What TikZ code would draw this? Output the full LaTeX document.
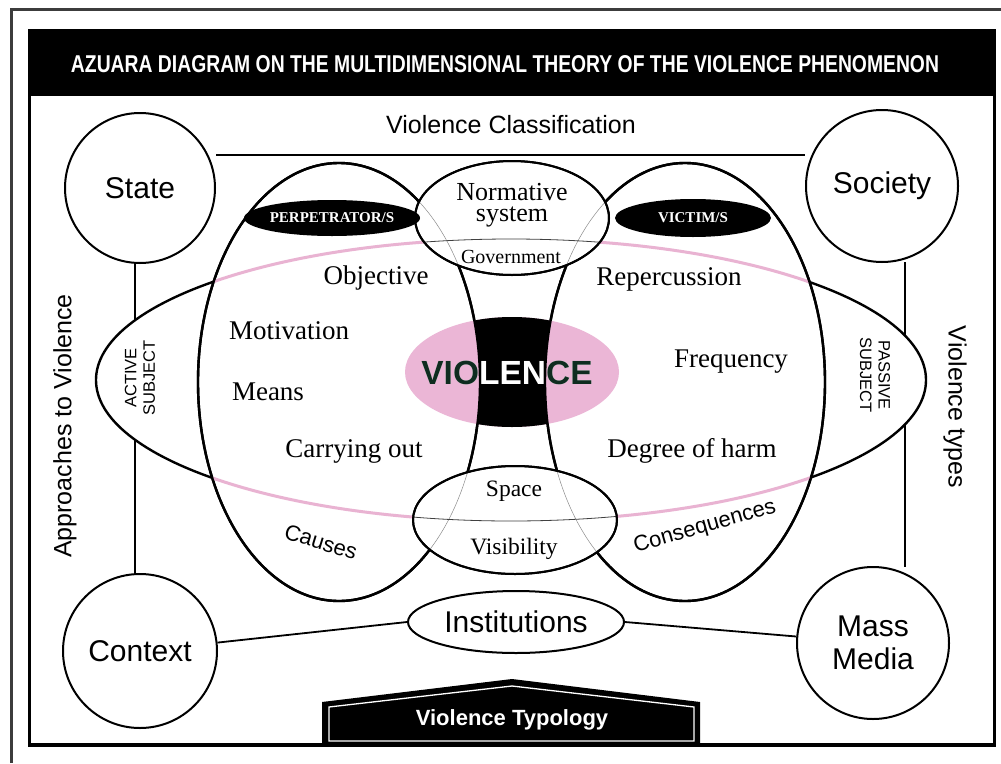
\documentclass[tikz,border=0pt]{standalone}
\usepackage{fontspec}
\setmainfont{Liberation Serif}
\setsansfont{Liberation Sans}
\usetikzlibrary{shapes.geometric}
\definecolor{pinkfill}{HTML}{EBB6D6}
\definecolor{pinkline}{HTML}{E9B3D2}
\definecolor{violgreen}{HTML}{0F2C20}
\definecolor{framegray}{HTML}{3C3C3C}
\newcommand{\azfs}[1]{\fontsize{#1}{#1}\selectfont}
\begin{document}
\begin{tikzpicture}[x=1pt,y=-1pt,
  bold/.style={line width=2.4pt},
  hub/.style={circle, draw, line width=2pt, fill=white, inner sep=0pt,
    font=\sffamily\azfs{30}, align=center},
  sertxt/.style={font=\azfs{27}},
  santxt/.style={font=\sffamily\azfs{25}},
  ghost/.style={line width=0.5pt, black!45},
  tag/.style={ellipse, fill=black, text=white, inner sep=0pt,
    font=\bfseries\azfs{15}},
]
\useasboundingbox (0,0) rectangle (1001,763);
\fill[white] (0,0) rectangle (1001,763);

% outer border and main frame with header band
\draw[framegray, line width=3pt] (11,763) -- (11,9) -- (1001,9);
\fill[black] (29,31) rectangle (995,96);
\draw[line width=3.5pt] (29.5,31) rectangle (994.5,745);
\node[text=white] (title) at (505,64) {\resizebox{868pt}{17pt}{\sffamily\bfseries AZUARA DIAGRAM ON THE MULTIDIMENSIONAL THEORY OF THE VIOLENCE PHENOMENON}};

% the four context circles
\node[hub, minimum size=150pt] (state) at (140,188) {State};
\node[hub, minimum size=152pt] (society) at (882,186) {Society};
\node[hub, minimum size=154pt] (context) at (140,651) {Context};
\node[hub, minimum size=152pt] (media) at (873,643) {Mass\\[3pt]Media};

% frame lines between the circles
\draw[line width=2pt] (state.east |- 0,155) -- (society.west |- 0,155);
\draw[line width=2pt] (135,263) -- (135,575);
\draw[line width=2pt] (905,262) -- (905,567);

% big horizontal ellipse (active / passive subject)
\filldraw[fill=white, bold] (511,380) ellipse [x radius=415pt, y radius=141pt];

% perpetrator and victim ellipses
\filldraw[fill=white, bold] (339,382) ellipse [x radius=141pt, y radius=219pt];
\filldraw[fill=white, bold] (685,382) ellipse [x radius=140pt, y radius=219pt];

% pink part of the horizontal ellipse inside them
\begin{scope}
  \clip (339,382) ellipse [x radius=141pt, y radius=219pt]
        (685,382) ellipse [x radius=140pt, y radius=219pt];
  \draw[pinkline, line width=3pt] (511,380) ellipse [x radius=415pt, y radius=141pt];
\end{scope}

% violence core: pink ellipse with black waist between the two ellipses
\fill[pinkfill] (512,372) ellipse [x radius=107pt, y radius=55pt];
\begin{scope}
  \clip (512,372) ellipse [x radius=107pt, y radius=55pt];
  \fill[black, even odd rule] (380,300) rectangle (650,450)
       (339,382) ellipse [x radius=141pt, y radius=219pt]
       (685,382) ellipse [x radius=140pt, y radius=219pt];
\end{scope}
\draw[bold] (339,382) ellipse [x radius=141pt, y radius=219pt];
\draw[bold] (685,382) ellipse [x radius=140pt, y radius=219pt];

% normative system ellipse
\filldraw[fill=white, line width=2pt] (512,218) ellipse [x radius=97pt, y radius=57pt];
\begin{scope}
  \clip (512,218) ellipse [x radius=97pt, y radius=57pt];
  \draw[ghost] (339,382) ellipse [x radius=141pt, y radius=219pt];
  \draw[ghost] (685,382) ellipse [x radius=140pt, y radius=219pt];
  \draw[line width=0.8pt, black!75] (511,380) ellipse [x radius=415pt, y radius=141pt];
\end{scope}
\draw[line width=2pt] (512,218) ellipse [x radius=97pt, y radius=57pt];

% space / visibility ellipse
\filldraw[fill=white, line width=2pt] (515,520) ellipse [x radius=102pt, y radius=54pt];
\begin{scope}
  \clip (515,520) ellipse [x radius=102pt, y radius=54pt];
  \draw[ghost] (339,382) ellipse [x radius=141pt, y radius=219pt];
  \draw[ghost] (685,382) ellipse [x radius=140pt, y radius=219pt];
  \draw[line width=0.8pt, black!75] (511,380) ellipse [x radius=415pt, y radius=141pt];
\end{scope}
\draw[line width=2pt] (515,520) ellipse [x radius=102pt, y radius=54pt];

% VIOLENCE label: white over the black waist, green over pink
\node[text=white, font=\sffamily\bfseries\azfs{33.5}] (violence) at (507,373) {VIOLENCE};
\begin{scope}
  \clip (339,382) ellipse [x radius=141pt, y radius=219pt]
        (685,382) ellipse [x radius=140pt, y radius=219pt];
  \node[text=violgreen, font=\sffamily\bfseries\azfs{33.5}] at (violence) {VIOLENCE};
\end{scope}

% labels
\node[santxt] (classif) at (511,125) {Violence Classification};
\node[santxt, rotate=90] (approach) at (65,426) {Approaches to Violence};
\node[santxt, rotate=-90] (types) at (955,407) {Violence types};

\node[tag, minimum width=146pt, minimum height=36pt] (perp) at (332,218) {PERPETRATOR/S};
\node[tag, minimum width=156pt, minimum height=38pt] (victim) at (693,218) {VICTIM/S};

\node[font=\azfs{26}, align=center] (normative) at (512,205) {Normative\\[-5pt]system};
\node[font=\azfs{20}] (government) at (511,257) {Government};
\node[font=\azfs{23.5}] (space) at (514,491) {Space};
\node[font=\azfs{23.5}] (visibility) at (514,549) {Visibility};

\node[sertxt] (objective) at (376,278) {Objective};
\node[sertxt] (motivation) at (289,331) {Motivation};
\node[sertxt] (means) at (268,392) {Means};
\node[sertxt] (carrying) at (354,451) {Carrying out};
\node[sertxt] (reperc) at (669,279) {Repercussion};
\node[sertxt] (frequency) at (731,362) {Frequency};
\node[sertxt] (harm) at (692,451) {Degree of harm};

\node[font=\sffamily\azfs{22}, rotate=-17] (causes) at (321,542) {Causes};
\node[font=\sffamily\azfs{22}, rotate=16] (conseq) at (705,527) {Consequences};

\node[font=\sffamily\azfs{16.5}, rotate=90, align=center] (active) at (140,378) {ACTIVE\\[2pt]SUBJECT};
\node[font=\sffamily\azfs{16.5}, rotate=-90, align=center] (passive) at (875,375) {PASSIVE\\[2pt]SUBJECT};

% institutions and their links
\node[ellipse, draw, line width=2pt, fill=white, minimum width=216pt, minimum height=62pt,
      inner sep=0pt, font=\sffamily\azfs{30}] (inst) at (516,622) {Institutions};
\draw[line width=1.8pt] (context) -- (inst.west);
\draw[line width=1.8pt] (inst.east) -- (media);

% violence typology plate
\fill[black] (322,745) -- (322,702) -- (512,679) -- (700,702) -- (700,745) -- cycle;
\draw[white, line width=1.3pt] (329,741) -- (329,707) -- (512,686) -- (694,707) -- (694,741) -- cycle;
\node[text=white, font=\sffamily\bfseries\azfs{22}] (typology) at (512,720) {Violence Typology};
\end{tikzpicture}
\end{document}
